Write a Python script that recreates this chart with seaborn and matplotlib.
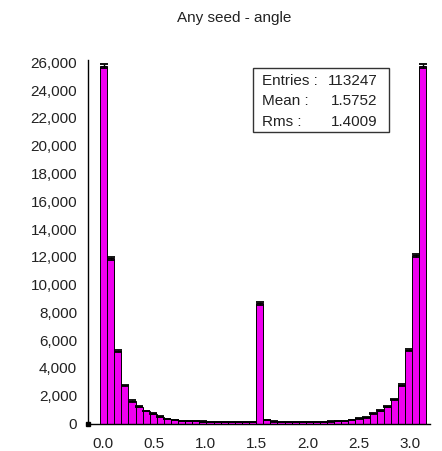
import numpy as np
import pandas as pd
import matplotlib
matplotlib.use("Agg")
import matplotlib.pyplot as plt
from matplotlib.ticker import FuncFormatter
import seaborn as sns

# Histogram of the seed angle (radians): 46 equal bins
bin_lo, bin_hi, n_bins = -0.026, 3.158, 46
counts = [
    25750, 11900, 5250, 2750, 1620, 1200, 900, 700, 500, 340,
    250, 200, 180, 160, 140, 130, 120, 110, 100, 100,
    100, 110, 8650, 250, 150, 120, 100, 100, 110, 110,
    120, 130, 150, 160, 200, 250, 370, 450, 730, 920,
    1210, 1740, 2770, 5290, 12100, 25750,
]
title = "Any seed - angle"
stats_labels = ["Entries :", "Mean :", "Rms :"]
stats_values = ["113247", "1.5752", "1.4009"]
x_ticks = [0.0, 0.5, 1.0, 1.5, 2.0, 2.5, 3.0]
y_ticks = list(range(0, 26001, 2000))

edges = np.linspace(bin_lo, bin_hi, n_bins + 1)
centers = 0.5 * (edges[:-1] + edges[1:])
counts = np.asarray(counts, dtype=float)
df = pd.DataFrame({"angle": centers, "entries": counts})

sns.set_style("white")
plt.rcParams["font.family"] = ["Liberation Sans", "DejaVu Sans"]

fig = plt.figure(figsize=(4.42, 4.51), dpi=100)
ax = fig.add_axes([88 / 442, 1 - 423.5 / 451, (430 - 88) / 442, (423.5 - 60) / 451])

sns.histplot(data=df, x="angle", weights="entries", bins=n_bins,
             binrange=(bin_lo, bin_hi), ax=ax,
             color="#f000f0", edgecolor="black", linewidth=0.7, alpha=1.0)
ax.errorbar(df["angle"], df["entries"], yerr=np.sqrt(df["entries"]), fmt="none",
            ecolor="black", elinewidth=1.0, capsize=2.6, capthick=1.3)

ax.set_xlim(-0.1434, 3.193)
ax.set_ylim(0, 26170)
ax.set_xticks(x_ticks)
ax.set_xticklabels([f"{t:.1f}" for t in x_ticks])
ax.set_yticks(y_ticks)
ax.yaxis.set_major_formatter(FuncFormatter(lambda v, p: f"{int(v):,}"))
ax.set_xlabel("")
ax.set_ylabel("")

for s in ("top", "right"):
    ax.spines[s].set_visible(False)
for s in ("left", "bottom"):
    ax.spines[s].set_color("black")
    ax.spines[s].set_linewidth(1.0)

ax.tick_params(axis="both", which="major", direction="inout", length=9.5,
               width=1.0, color="black", labelsize=11, labelcolor="#222222")
ax.tick_params(axis="y", pad=3)
ax.tick_params(axis="x", pad=5)

# small square marking the axes origin
ax.plot([ax.get_xlim()[0]], [ax.get_ylim()[0]], marker="s", ms=3,
        color="black", clip_on=False, zorder=6)

fig.text(177 / 442, 1 - 18 / 451, title, ha="left", va="center",
         fontsize=11, color="#222222")

# Statistics box
box_l, box_r, box_t, box_b = 253, 389, 68.3, 132.3
fig.patches.append(plt.Rectangle((box_l / 442, 1 - box_b / 451),
                                 (box_r - box_l) / 442, (box_b - box_t) / 451,
                                 transform=fig.transFigure, facecolor="white",
                                 edgecolor="#333333", linewidth=1.0, zorder=5))
for i, (lab, val) in enumerate(zip(stats_labels, stats_values)):
    y = 1 - (81 + 20.3 * i) / 451
    fig.text(261.5 / 442, y, lab, ha="left", va="center", fontsize=11,
             color="#222222", zorder=6)
    fig.text(377.5 / 442, y, val, ha="right", va="center", fontsize=11,
             color="#222222", zorder=6)

fig.savefig("out.png", dpi=100, facecolor="white")
